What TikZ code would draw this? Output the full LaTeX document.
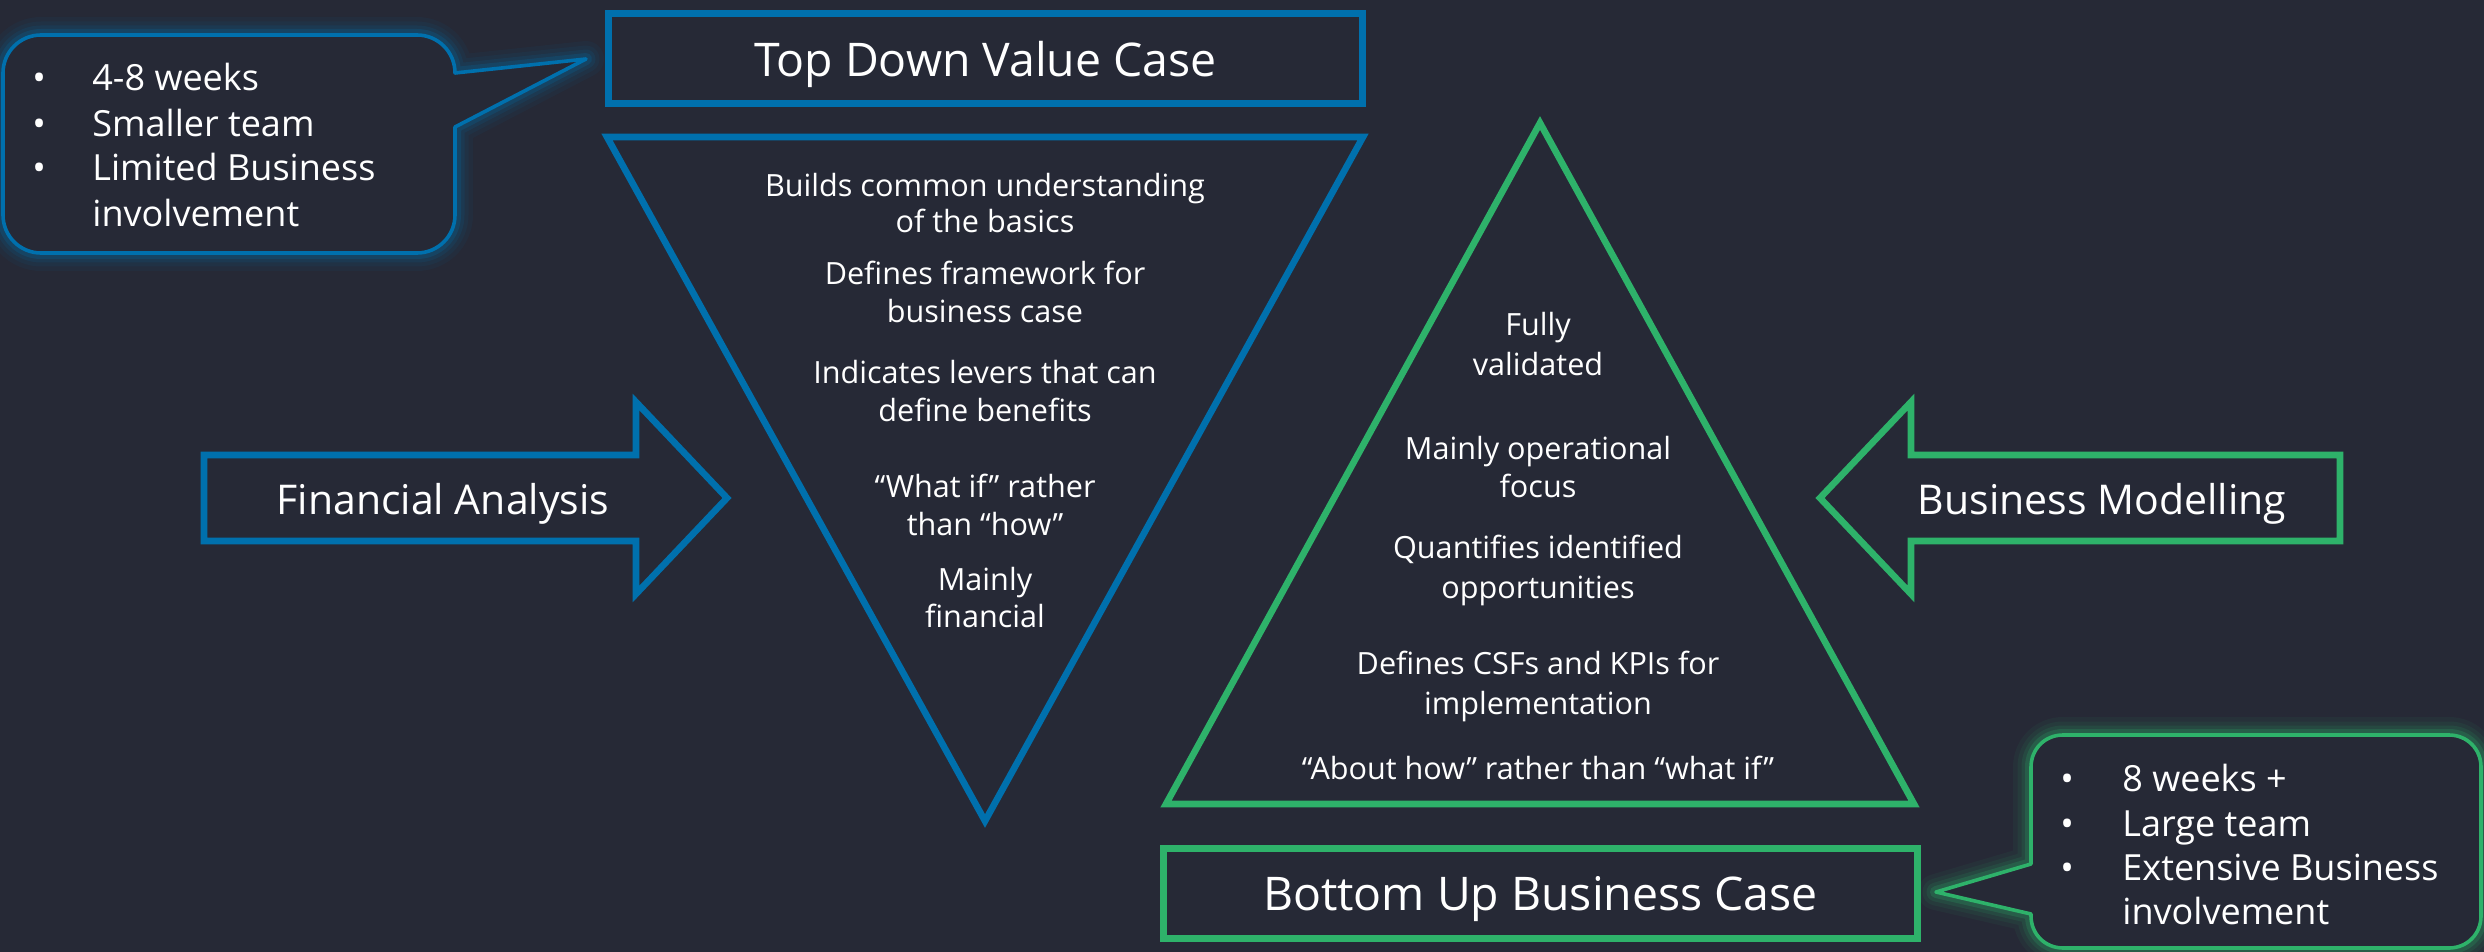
\documentclass[tikz,border=0pt]{standalone}
\usepackage{fontspec}
\setmainfont{Open Sans}
\definecolor{bg}{RGB}{38,41,54}
\definecolor{cblue}{RGB}{0,112,173}
\definecolor{cgreen}{RGB}{46,178,106}
\begin{document}
\begin{tikzpicture}[x=0.5pt,y=-0.5pt,
  line join=miter,
  frame/.style={draw=#1, line width=3.5pt, minimum width=377pt, minimum height=45pt, inner sep=0pt,
    text=white, text depth=0pt, font=\fontsize{23.2}{27}\selectfont},
  shapeline/.style={draw=#1, line width=3.3pt},
  label/.style={text=white, inner sep=0pt, anchor=mid, font=\fontsize{20.5}{24}\selectfont},
  tline/.style={text=white, inner sep=0pt, anchor=mid, font=\fontsize{15.3}{18.5}\selectfont},
  cline/.style={text=white, inner sep=0pt, anchor=mid west, font=\fontsize{18}{22.7}\selectfont},
  callout/.style={draw=#1, line width=1.8pt, line join=round, fill=bg},
  glow/.style={draw=#1, line join=round}
]
% canvas
\fill[bg] (0,0) rectangle (2484,952);
\useasboundingbox (0,0) rectangle (2484,952);

% ---------- title boxes ----------
\node[frame=cblue] (topbox) at (985.5,58.5) {Top Down Value Case};
\node[frame=cgreen] (botbox) at (1540.5,893.5) {Bottom Up Business Case};

% ---------- triangles ----------
\draw[shapeline=cblue] (607,137) -- (1363,137) -- (985,821) -- cycle;
\draw[shapeline=cgreen] (1540,123) -- (1914,804) -- (1166,804) -- cycle;

% ---------- side arrows ----------
\draw[shapeline=cblue] (204,455) -- (636,455) -- (636,402) -- (727,498)
  -- (636,594) -- (636,541) -- (204,541) -- cycle;
\node[label] (fin) at (443,509) {Financial Analysis};

\draw[shapeline=cgreen] (2340,455) -- (1911,455) -- (1911,402) -- (1820,498)
  -- (1911,594) -- (1911,541) -- (2340,541) -- cycle;
\node[label] (bm) at (2102,509) {Business Modelling};

% ---------- text inside the inverted triangle ----------
\begin{scope}[yshift=-3.5pt]
\node[tline] (d1a) at (985,184) {Builds common understanding};
\node[tline] (d1b) at (985,220) {of the basics};
\node[tline] (d2a) at (985,272) {Defines framework for};
\node[tline] (d2b) at (985,310) {business case};
\node[tline] (d3a) at (985,371) {Indicates levers that can};
\node[tline] (d3b) at (985,409) {define benefits};
\node[tline] (d4a) at (985,485) {“What if” rather};
\node[tline] (d4b) at (985,523) {than “how”};
\node[tline] (d5a) at (985,578) {Mainly};
\node[tline] (d5b) at (985,615) {financial};

% ---------- text inside the upright triangle ----------
\node[tline] (u1a) at (1538,323) {Fully};
\node[tline] (u1b) at (1538,363) {validated};
\node[tline] (u2a) at (1538,447) {Mainly operational};
\node[tline] (u2b) at (1538,485) {focus};
\node[tline] (u3a) at (1538,546) {Quantifies identified};
\node[tline] (u3b) at (1538,586) {opportunities};
\node[tline] (u4a) at (1538,662) {Defines CSFs and KPIs for};
\node[tline] (u4b) at (1538,702) {implementation};
\node[tline] (u5)  at (1538,767) {“About how” rather than “what if”};
\end{scope}

% ---------- callout, top left ----------
\foreach \w/\o in {18/0.06,13.5/0.08,9.5/0.12,6/0.2}{
  \draw[glow=cblue, line width=\w pt, opacity=\o]
    (455,127) -- (455,215) .. controls (455,236) and (438,253) .. (417,253)
    -- (41,253) .. controls (20,253) and (3,236) .. (3,215)
    -- (3,73) .. controls (3,52) and (20,35) .. (41,35)
    -- (417,35) .. controls (438,35) and (455,52) .. (455,73)
    -- (586,59) -- cycle;
}
\draw[callout=cblue]
    (455,127) -- (455,215) .. controls (455,236) and (438,253) .. (417,253)
    -- (41,253) .. controls (20,253) and (3,236) .. (3,215)
    -- (3,73) .. controls (3,52) and (20,35) .. (41,35)
    -- (417,35) .. controls (438,35) and (455,52) .. (455,73)
    -- (586,59) -- cycle;
\begin{scope}[yshift=-3.5pt]
\node[cline] (cb1) at (32,78) {•};
\node[cline] (cb2) at (32,124) {•};
\node[cline] (cb3) at (32,168) {•};
\node[cline] (ct1) at (92,78) {4-8 weeks};
\node[cline] (ct2) at (92,124) {Smaller team};
\node[cline] (ct3) at (92,168) {Limited Business};
\node[cline] (ct4) at (92,214) {involvement};
\end{scope}

% ---------- callout, bottom right ----------
\foreach \w/\o in {18/0.06,13.5/0.08,9.5/0.12,6/0.2}{
  \draw[glow=cgreen, line width=\w pt, opacity=\o]
    (2031,864) -- (2031,767) .. controls (2031,749) and (2045,735) .. (2063,735)
    -- (2449,735) .. controls (2467,735) and (2481,749) .. (2481,767)
    -- (2481,916) .. controls (2481,934) and (2467,948) .. (2449,948)
    -- (2063,948) .. controls (2045,948) and (2031,934) .. (2031,916)
    -- (2031,914) -- (1936,892) -- cycle;
}
\draw[callout=cgreen]
    (2031,864) -- (2031,767) .. controls (2031,749) and (2045,735) .. (2063,735)
    -- (2449,735) .. controls (2467,735) and (2481,749) .. (2481,767)
    -- (2481,916) .. controls (2481,934) and (2467,948) .. (2449,948)
    -- (2063,948) .. controls (2045,948) and (2031,934) .. (2031,916)
    -- (2031,914) -- (1936,892) -- cycle;
\begin{scope}[yshift=-3.5pt]
\node[cline] (gb1) at (2060,779) {•};
\node[cline] (gb2) at (2060,824) {•};
\node[cline] (gb3) at (2060,868) {•};
\node[cline] (gt1) at (2122,779) {8 weeks +};
\node[cline] (gt2) at (2122,824) {Large team};
\node[cline] (gt3) at (2122,868) {Extensive Business};
\node[cline] (gt4) at (2122,912) {involvement};
\end{scope}
\end{tikzpicture}
\end{document}
